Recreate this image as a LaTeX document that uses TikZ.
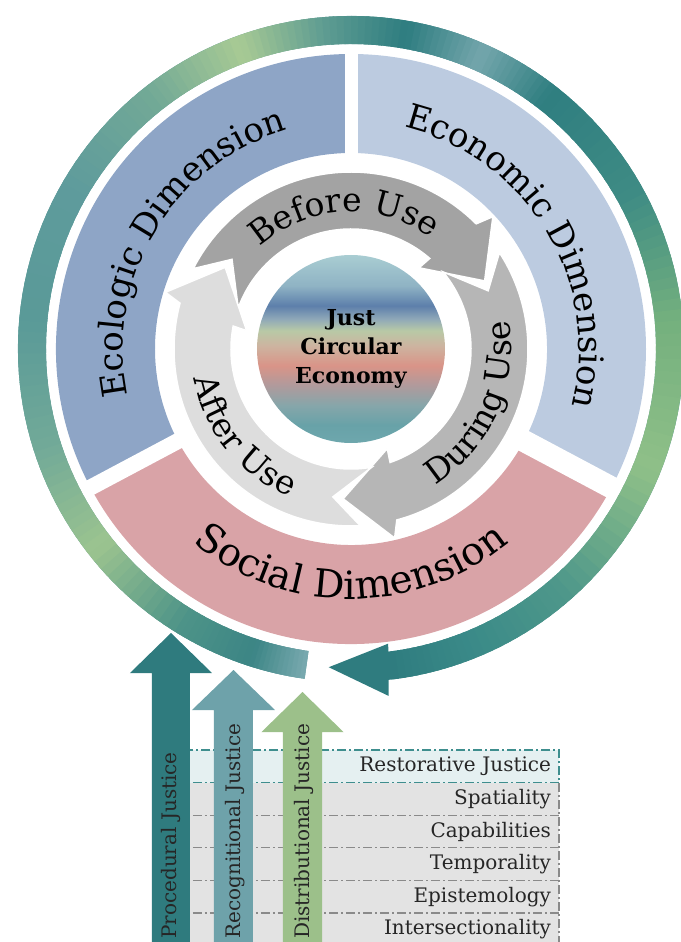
\documentclass[tikz,border=0pt]{standalone}
\usepackage{fontspec}
\setmainfont{DejaVu Serif}
\usepackage{xcolor}
\usepackage{tikz}
\usetikzlibrary{positioning,decorations.text}

\definecolor{ecocol}{HTML}{8EA5C6}
\definecolor{econcol}{HTML}{BCCBE0}
\definecolor{soccol}{HTML}{D9A3A7}
\definecolor{befcol}{HTML}{A3A3A3}
\definecolor{durcol}{HTML}{B6B6B6}
\definecolor{aftcol}{HTML}{DDDDDD}
\definecolor{procol}{HTML}{2F7B7E}
\definecolor{reccol}{HTML}{6EA2AA}
\definecolor{discol}{HTML}{9CC08A}
\definecolor{restfill}{HTML}{E5F0F1}
\definecolor{rowfill}{HTML}{E3E3E3}
\definecolor{tealline}{HTML}{3E8E8E}
\definecolor{grayline}{HTML}{8A8A8A}
\definecolor{ballA}{HTML}{6EA7AD}
\definecolor{ballB}{HTML}{68A2A8}
\definecolor{ballC}{HTML}{86A6AA}
\definecolor{ballD}{HTML}{B09A9C}
\definecolor{ballE}{HTML}{D99488}
\definecolor{ballF}{HTML}{CDB4A0}
\definecolor{ballG}{HTML}{B8C9A6}
\definecolor{ballH}{HTML}{8FA8B8}
\definecolor{ballI}{HTML}{5D7FAB}
\definecolor{ballJ}{HTML}{8FB3C4}
\definecolor{ballK}{HTML}{A9CDD2}
\definecolor{rgA}{HTML}{7AAAB0}
\definecolor{rgB}{HTML}{3C8585}
\definecolor{rgC}{HTML}{4E9488}
\definecolor{rgD}{HTML}{9CC48F}
\definecolor{rgE}{HTML}{72AA98}
\definecolor{rgF}{HTML}{5A9A98}
\definecolor{rgG}{HTML}{5E9B9C}
\definecolor{rgH}{HTML}{72A996}
\definecolor{rgI}{HTML}{A8CA94}
\definecolor{rgJ}{HTML}{5F9D92}
\definecolor{rgK}{HTML}{2E7D80}
\definecolor{rgL}{HTML}{74A6AC}
\definecolor{rgM}{HTML}{2F7E80}
\definecolor{rgN}{HTML}{3F8C84}
\definecolor{rgO}{HTML}{74B07E}
\definecolor{rgP}{HTML}{8FC088}
\definecolor{rgQ}{HTML}{4F988A}
\definecolor{rgR}{HTML}{3A8A88}
\definecolor{rgS}{HTML}{2F7C7F}

\pgfdeclareverticalshading{ballshade}{100bp}{color(0bp)=(ballA); color(25bp)=(ballA);
  color(29.8bp)=(ballB); color(35bp)=(ballC); color(40.3bp)=(ballD); color(45.6bp)=(ballE);
  color(50.9bp)=(ballF); color(54.9bp)=(ballG); color(58bp)=(ballH); color(61.5bp)=(ballI);
  color(66.8bp)=(ballJ); color(75bp)=(ballK); color(100bp)=(ballK)}

\newcommand{\dimfont}{\fontsize{34pt}{34pt}\selectfont}
\newcommand{\socfont}{\fontsize{39pt}{39pt}\selectfont}
\newcommand{\phasefont}{\fontsize{33pt}{33pt}\selectfont}
\newcommand{\ballfont}{\fontsize{22pt}{29pt}\selectfont\bfseries}
\newcommand{\rowfont}{\fontsize{20pt}{22pt}\selectfont}

\begin{document}
\begin{tikzpicture}[
  arctext/.style={decorate,decoration={text along path,text align=center,text={#1}}},
  rowbox/.style={rectangle,fill=rowfill,minimum height=32.6pt,text width=367pt,
                 inner xsep=8pt,inner ysep=0pt,outer sep=0pt,align=right,
                 font=\rowfont,text=black!85},
  tealdd/.style={draw=tealline,line width=1.1pt,dash pattern=on 9pt off 3pt on 2pt off 3pt},
  graydd/.style={tealdd,draw=grayline},
  justlab/.style={rotate=90,anchor=base west,inner sep=0pt,font=\rowfont,text=black!85},
  gapline/.style={draw=white,line width=#1},
  cyclearrow/.style={fill=#1,draw=white,line width=1.5pt},
  node distance=0pt]
\useasboundingbox (-351pt,-593pt) rectangle (329pt,349pt);

\node[rowbox,fill=restfill] (rest) at (16.5pt,-417.3pt) {Restorative Justice};
\node[rowbox,below=of rest] (spat) {Spatiality};
\node[rowbox,below=of spat] (capa) {Capabilities};
\node[rowbox,below=of capa] (temp) {Temporality};
\node[rowbox,below=of temp] (epis) {Epistemology};
\node[rowbox,below=of epis] (inter) {Intersectionality};
\draw[graydd] (spat.north east) -- (inter.south east);
\foreach \rw in {spat,capa,temp,epis}
  \draw[graydd] (\rw.south west) -- (\rw.south east);
\draw[tealdd] (rest.south west) -- (rest.south east) -- (rest.north east) -- (rest.north west);

\fill[procol] (-199pt,-600pt) -- (-199pt,-324pt) -- (-221pt,-324pt) -- (-180pt,-284pt)
  -- (-139pt,-324pt) -- (-161pt,-324pt) -- (-161pt,-600pt) -- cycle;
\fill[reccol] (-137pt,-600pt) -- (-137pt,-361pt) -- (-159pt,-361pt) -- (-117.5pt,-321pt)
  -- (-76pt,-361pt) -- (-98pt,-361pt) -- (-98pt,-600pt) -- cycle;
\fill[discol] (-68pt,-600pt) -- (-68pt,-383pt) -- (-89.5pt,-383pt) -- (-48.5pt,-343pt)
  -- (-7.5pt,-383pt) -- (-29pt,-383pt) -- (-29pt,-600pt) -- cycle;
\node[justlab] (procj) at (-174pt,-590pt) {Procedural Justice};
\node[justlab] (recj) at (-110.5pt,-590pt) {Recognitional Justice};
\node[justlab] (distj) at (-41.5pt,-590pt) {Distributional Justice};

\fill[rgF] (262:305pt) arc[start angle=262,end angle=-83,radius=305pt]
  -- (-83:333pt) arc[start angle=-83,end angle=262,radius=333pt] -- cycle;
\foreach \ta/\tb/\ca/\cb in {262/252/rgA/rgB,252/238/rgB/rgC,238/218/rgC/rgD,
    218/198/rgD/rgE,198/175/rgE/rgF,175/150/rgF/rgG,150/128/rgG/rgH,128/110/rgH/rgI,
    110/95/rgI/rgJ,95/80/rgJ/rgK,80/66/rgK/rgL,66/52/rgL/rgM,52/28/rgM/rgN,28/5/rgN/rgO,
    5/-22/rgO/rgP,-22/-48/rgP/rgQ,-48/-68/rgQ/rgR,-68/-83/rgR/rgS}{
  \foreach \i in {0,...,11}{
    \pgfmathsetmacro{\ringsa}{\ta+((\tb)-(\ta))*\i/12}
    \pgfmathsetmacro{\ringea}{\ta+((\tb)-(\ta))*(\i+1)/12-0.8}
    \pgfmathtruncatemacro{\ringpc}{100-100*(\i+0.5)/12}
    \fill[\ca!\ringpc!\cb] (\ringsa:305pt) arc[start angle=\ringsa,end angle=\ringea,radius=305pt]
      -- (\ringea:333pt) arc[start angle=\ringea,end angle=\ringsa,radius=333pt] -- cycle;
  }
}
\fill[rgS] (266:319pt) -- (277.2:297pt) -- (276.2:349pt) -- cycle;

\fill[ecocol] (90:196pt) arc[start angle=90,end angle=208,radius=196pt]
  -- (208:295pt) arc[start angle=208,end angle=90,radius=295pt] -- cycle;
\fill[econcol] (-28:196pt) arc[start angle=-28,end angle=90,radius=196pt]
  -- (90:295pt) arc[start angle=90,end angle=-28,radius=295pt] -- cycle;
\fill[soccol] (208:196pt) arc[start angle=208,end angle=332,radius=196pt]
  -- (332:295pt) arc[start angle=332,end angle=208,radius=295pt] -- cycle;
\draw[gapline=13pt] (90:188pt) -- (90:300pt);
\draw[gapline=16pt] (208:188pt) -- (208:300pt);
\draw[gapline=22pt] (-28:188pt) -- (-28:300pt);
\path[arctext={|\dimfont|Ecologic Dimension}] (209:228pt) arc[start angle=209,end angle=89,radius=228pt];
\path[arctext={|\dimfont|Economic Dimension}] (91:228pt) arc[start angle=91,end angle=-29,radius=228pt];
\path[arctext={|\socfont|Social Dimension}] (210:250pt) arc[start angle=210,end angle=330,radius=250pt];

\foreach \rot/\col in {0/befcol,-120/durcol,-240/aftcol}
  \path[cyclearrow=\col,rotate=\rot] (153:177pt) arc[start angle=153,end angle=45,radius=177pt]
    -- (43:194pt) -- (27:150pt) -- (50:106pt) -- (49:120pt)
    arc[start angle=49,end angle=160,radius=120pt] -- (143:149pt) -- cycle;
\path[arctext={|\phasefont|Before Use}] (153:137pt) arc[start angle=153,end angle=33,radius=137pt];
\path[arctext={|\phasefont|During Use}] (-84:160pt) arc[start angle=-84,end angle=36,radius=160pt];
\path[arctext={|\phasefont|After Use}] (159:160pt) arc[start angle=159,end angle=279,radius=160pt];

\node[circle,minimum size=188pt,inner sep=0pt,shade,shading=ballshade,align=center,
  font=\ballfont] (jce) at (0pt,0pt) {Just\\Circular\\Economy};
\end{tikzpicture}
\end{document}
